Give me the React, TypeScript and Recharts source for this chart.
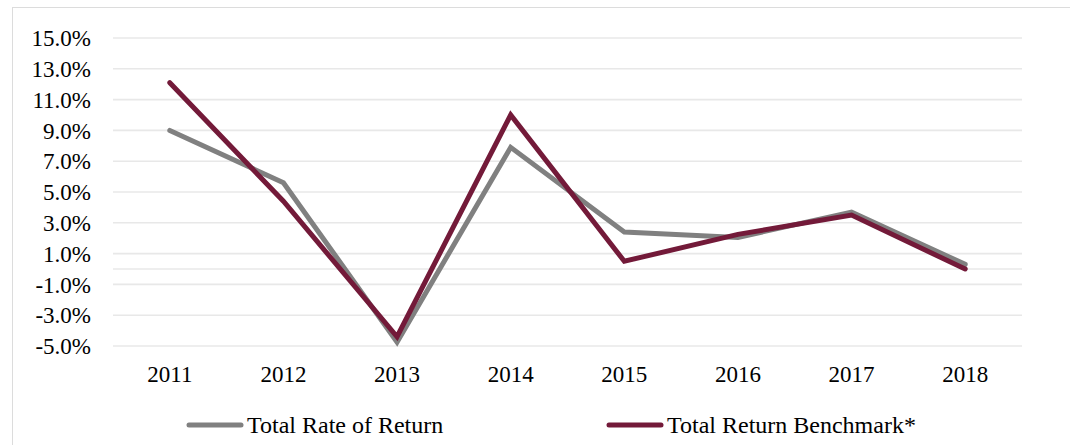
import React from 'react';
import { LineChart, Line, XAxis, YAxis, CartesianGrid, ReferenceLine, Legend } from 'recharts';

const years = ['2011', '2012', '2013', '2014', '2015', '2016', '2017', '2018'];
const totalRateOfReturn = [9.0, 5.6, -4.75, 7.9, 2.4, 2.05, 3.7, 0.3];
const totalReturnBenchmark = [12.1, 4.4, -4.4, 10.0, 0.5, 2.25, 3.5, 0.0];
const yTicks = [-5, -3, -1, 1, 3, 5, 7, 9, 11, 13, 15];

const seriesNames = ['Total Rate of Return', 'Total Return Benchmark*'];
const seriesColors = ['#808080', '#731A39'];

const data = years.map((y, i) => ({
  year: y,
  trr: totalRateOfReturn[i],
  trb: totalReturnBenchmark[i],
}));

const FONT = 'Liberation Serif';

const LegendContent = (props: any) => {
  const payload = props.payload || [];
  const starts = [187, 607];
  return (
    <svg width={1070} height={40} style={{ display: 'block' }}>
      {payload.map((p: any, i: number) => (
        <g key={i}>
          <line x1={starts[i] + 2} x2={starts[i] + 54} y1={20} y2={20} stroke={p.color} strokeWidth={5} strokeLinecap="round" />
          <text x={starts[i] + 60} y={28} style={{ fontFamily: FONT, fontSize: 24 }} fill="#000">{p.value}</text>
        </g>
      ))}
    </svg>
  );
};

export default function App() {
  return (
    <div style={{ position: 'absolute', left: 0, top: 0, width: 1070, height: 445, background: '#fff', overflow: 'hidden', fontFamily: FONT }}>
      <div style={{ position: 'absolute', left: 12, top: 7, width: 1080, height: 460, borderTop: '1.5px solid #dcdcdc', borderLeft: '1.5px solid #dcdcdc' }} />
      <LineChart width={1070} height={445} data={data} margin={{ top: 38, right: 48, left: 13, bottom: 69 }} style={{ fontFamily: FONT }}>
        <CartesianGrid vertical={false} stroke="#e8e8e8" strokeWidth={1.6} />
        <ReferenceLine y={0} stroke="#e8e8e8" strokeWidth={1.6} />
        <XAxis
          dataKey="year"
          scale="band"
          height={30}
          axisLine={false}
          tickLine={false}
          tickSize={0}
          tickMargin={20}
          tick={{ fontFamily: FONT, fontSize: 23, fill: '#000' }}
          interval={0}
        />
        <YAxis
          width={100}
          domain={[-5, 15]}
          ticks={yTicks}
          axisLine={false}
          tickLine={false}
          tickSize={0}
          tickMargin={22}
          interval={0}
          tickFormatter={(v: number) => v.toFixed(1) + '%'}
          tick={{ fontFamily: FONT, fontSize: 23, fill: '#000' }}
        />
        <Legend
          layout="vertical"
          align="center"
          verticalAlign="middle"
          wrapperStyle={{ position: 'absolute', left: 0, top: 405, width: 1070, height: 40 }}
          content={<LegendContent />}
        />
        <Line type="linear" dataKey="trr" name={seriesNames[0]} stroke={seriesColors[0]} strokeWidth={5} strokeLinecap="round" dot={false} activeDot={false} isAnimationActive={false} />
        <Line type="linear" dataKey="trb" name={seriesNames[1]} stroke={seriesColors[1]} strokeWidth={5} strokeLinecap="round" dot={false} activeDot={false} isAnimationActive={false} />
      </LineChart>
    </div>
  );
}
